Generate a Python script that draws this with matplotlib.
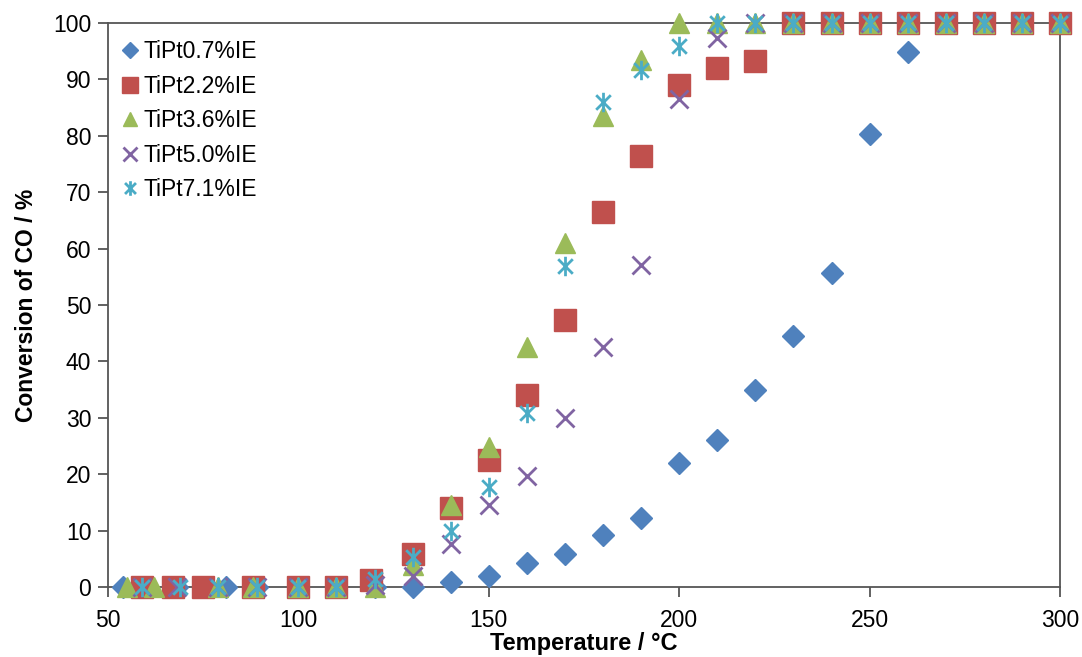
import matplotlib
matplotlib.use("Agg")
import matplotlib.pyplot as plt
from matplotlib.path import Path

plt.rcParams['font.family'] = ['Liberation Sans', 'DejaVu Sans']

# TiPt0.7%IE
t_07 = [54, 60, 68, 76, 81, 89, 100, 110, 120, 130, 140, 150, 160, 170, 180, 190,
        200, 210, 220, 230, 240, 250, 260, 270, 280, 290, 300]
c_07 = [0, 0, 0, 0, 0, 0, 0, 0, 0, 0, 0.9, 2.0, 4.2, 5.8, 9.2, 12.2,
        22.0, 26.0, 35.0, 44.5, 55.6, 80.4, 94.8, 100, 100, 100, 100]
# TiPt2.2%IE
t_22 = [59, 67, 75, 88, 100, 110, 119, 130, 140, 150, 160, 170, 180, 190,
        200, 210, 220, 230, 240, 250, 260, 270, 280, 290, 300]
c_22 = [0, 0, 0, 0, 0, 0, 1.3, 5.8, 14.0, 22.5, 34.0, 47.3, 66.5, 76.5,
        89.0, 92.0, 93.2, 100, 100, 100, 100, 100, 100, 100, 100]
# TiPt3.6%IE
t_36 = [55, 62, 79, 88, 100, 110, 120, 130, 140, 150, 160, 170, 180, 190,
        200, 210, 220, 230, 240, 250, 260, 270, 280, 290, 300]
c_36 = [0, 0, 0, 0, 0, 0, 0, 3.9, 14.6, 24.8, 42.5, 61.0, 83.5, 93.4,
        100, 100, 100, 100, 100, 100, 100, 100, 100, 100, 100]
# TiPt5.0%IE
t_50 = [59, 68, 79, 89, 100, 110, 120, 130, 140, 150, 160, 170, 180, 190,
        200, 210, 220, 230, 240, 250, 260, 270, 280, 290, 300]
c_50 = [0, 0, 0, 0, 0, 0, 0.4, 2.0, 7.6, 14.5, 19.6, 29.9, 42.6, 57.1,
        86.5, 97.4, 100, 100, 100, 100, 100, 100, 100, 100, 100]
# TiPt7.1%IE
t_71 = [59, 69, 79, 89, 100, 110, 120, 130, 140, 150, 160, 170, 180, 190,
        200, 210, 220, 230, 240, 250, 260, 270, 280, 290, 300]
c_71 = [0, 0, 0, 0, 0, 0, 1.5, 5.3, 10.0, 17.7, 30.8, 57.0, 86.0, 91.6,
        96.0, 100, 100, 100, 100, 100, 100, 100, 100, 100, 100]

labels = ['TiPt0.7%IE', 'TiPt2.2%IE', 'TiPt3.6%IE', 'TiPt5.0%IE', 'TiPt7.1%IE']

# excel style star: vertical bar plus an x
star = Path([(0, -1), (0, 1), (-0.75, -0.75), (0.75, 0.75), (-0.75, 0.75), (0.75, -0.75)],
            [Path.MOVETO, Path.LINETO, Path.MOVETO, Path.LINETO, Path.MOVETO, Path.LINETO])

fig = plt.figure(figsize=(10.82, 6.57), dpi=100)
ax = fig.add_axes([0.0998, 0.1065, 0.8799, 0.8585])

kw = dict(ls='none', clip_on=False, zorder=3)
ax.plot(t_07, c_07, marker='D', ms=11, color='#4F81BD', mec='#4F81BD', label=labels[0], **kw)
ax.plot(t_22, c_22, marker='s', ms=15.5, color='#C0504D', mec='#C0504D', label=labels[1], **kw)
ax.plot(t_36, c_36, marker='^', ms=14, color='#9BBB59', mec='#9BBB59', label=labels[2], **kw)
ax.plot(t_50, c_50, marker='x', ms=13, mew=2, color='#8064A2', label=labels[3], **kw)
ax.plot(t_71, c_71, marker=star, ms=14, mew=2, color='#4BACC6', label=labels[4], **kw)

ax.set_xlim(50, 300)
ax.set_ylim(0, 100)
ax.set_xticks(range(50, 301, 50))
ax.set_yticks(range(0, 101, 10))
for s in ax.spines.values():
    s.set_color('#555555')
    s.set_linewidth(1.3)
ax.tick_params(direction='out', length=7, width=1.3, color='#555555', labelsize=16.5, pad=5)
ax.tick_params(axis='x', pad=9)

ax.set_xlabel('Temperature / °C', fontsize=17, fontweight='bold', labelpad=0)
ax.set_ylabel('Conversion of CO / %', fontsize=16.5, fontweight='bold', labelpad=11)

ax.legend(loc='upper left', frameon=False, fontsize=16.5, handletextpad=0.1,
          borderaxespad=0.3, labelspacing=0.5, handlelength=1.0, markerscale=0.75,
          bbox_to_anchor=(-0.006, 0.998))

fig.savefig('out.png', dpi=100)
